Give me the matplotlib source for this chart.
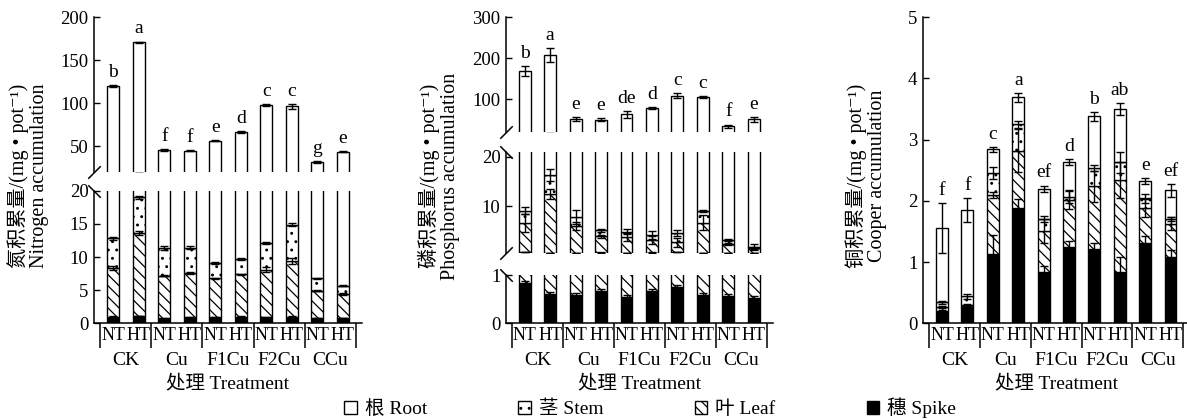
import numpy as np
import matplotlib
matplotlib.use('Agg')
import matplotlib.pyplot as plt
from matplotlib.patches import Patch

plt.rcParams['font.family'] = ['Liberation Serif', 'Noto Sans CJK SC', 'DejaVu Sans']
plt.rcParams['hatch.linewidth'] = 0.9

groups = ['CK', 'Cu', 'F1Cu', 'F2Cu', 'CCu']
temps = ['NT', 'HT']
parts = ['根 Root', '茎 Stem', '叶 Leaf', '穗 Spike']

# Nitrogen (mg/pot): component values, order NT,HT per group
n_spike = [1.0, 1.1, 0.75, 0.9, 0.9, 1.0, 0.9, 1.0, 0.8, 0.8]
n_leaf = [7.4, 12.5, 6.45, 6.7, 5.9, 6.4, 7.2, 8.4, 4.1, 3.6]
n_stem = [4.4, 5.4, 4.2, 3.8, 2.3, 2.3, 4.0, 5.5, 1.9, 1.3]
n_root = [107.2, 152.0, 34.1, 33.6, 47.4, 56.8, 85.4, 81.6, 24.7, 37.8]
n_spike_err = [0.05] * 10
n_leaf_err = [0.3, 0.3, 0.1, 0.1, 0.1, 0.1, 0.4, 0.5, 0.1, 0.1]
n_stem_err = [0.2, 0.2, 0.3, 0.2, 0.1, 0.1, 0.15, 0.2, 0.1, 0.1]
n_root_err = [1.0, 0.8, 0.8, 0.8, 0.8, 0.8, 1.2, 3.0, 0.8, 0.8]
n_letters = ['b', 'a', 'f', 'f', 'e', 'd', 'c', 'c', 'g', 'e']

# Phosphorus
p_spike = [0.83, 0.61, 0.58, 0.66, 0.54, 0.67, 0.75, 0.58, 0.57, 0.52]
p_leaf = [5.77, 11.89, 5.42, 3.34, 3.21, 2.53, 1.95, 6.12, 1.83, 0.98]
p_stem = [2.5, 3.8, 1.9, 1.2, 1.15, 1.0, 1.85, 2.4, 0.8, 0.3]
p_root = [158.9, 191.7, 43.1, 44.8, 58.1, 73.8, 104.45, 95.9, 30.8, 49.2]
p_spike_err = [0.04] * 10
p_leaf_err = [1.8, 1.0, 0.8, 0.3, 0.8, 0.8, 1.0, 1.5, 0.2, 0.2]
p_stem_err = [0.7, 1.3, 1.4, 0.3, 0.5, 0.8, 0.6, 0.2, 0.2, 0.6]
p_root_err = [12, 17, 5, 4, 8, 3, 6, 3, 4, 6]
p_letters = ['b', 'a', 'e', 'e', 'de', 'd', 'c', 'c', 'f', 'e']

# Copper
c_spike = [0.20, 0.27, 1.14, 1.88, 0.84, 1.25, 1.21, 0.84, 1.32, 1.09]
c_leaf = [0.07, 0.03, 0.95, 0.94, 0.67, 0.76, 1.03, 1.50, 0.56, 0.54]
c_stem = [0.07, 0.14, 0.36, 0.43, 0.19, 0.06, 0.30, 0.29, 0.16, 0.07]
c_root = [1.22, 1.41, 0.39, 0.44, 0.50, 0.57, 0.84, 0.87, 0.28, 0.47]
c_spike_err = [0.02, 0.02, 0.3, 0.15, 0.1, 0.1, 0.1, 0.25, 0.1, 0.1]
c_leaf_err = [0.02, 0.02, 0.05, 0.35, 0.2, 0.15, 0.25, 0.3, 0.15, 0.1]
c_stem_err = [0.03, 0.04, 0.1, 0.06, 0.05, 0.1, 0.05, 0.17, 0.07, 0.03]
c_root_err = [0.41, 0.19, 0.04, 0.07, 0.05, 0.05, 0.07, 0.1, 0.05, 0.1]
c_letters = ['f', 'f', 'c', 'a', 'ef', 'd', 'b', 'ab', 'e', 'ef']

W, H = 1187, 419
fig = plt.figure(figsize=(W / 100, H / 100), dpi=100)

def box(x0, x1, ytop, ybot):
    return [x0 / W, 1 - ybot / H, (x1 - x0) / W, (ybot - ytop) / H]

styles = [  # spike, leaf, stem, root
    dict(facecolor='black', hatch=None),
    dict(facecolor='white', hatch='\\\\\\'),
    dict(facecolor='white', hatch='..'),
    dict(facecolor='white', hatch=None),
]
BW = 0.47
FS = 14
TS = 13.5
XS = 13

def draw(ax, comps, errs):
    x = np.arange(10)
    bottom = np.zeros(10)
    tops = []
    for vals, st in zip(comps, styles):
        vals = np.asarray(vals, float)
        ax.bar(x, vals, BW, bottom=bottom, edgecolor='black', linewidth=1.0, **st)
        bottom = bottom + vals
        tops.append(bottom.copy())
    for t, e in zip(tops, errs):
        ax.errorbar(x, t, yerr=e, fmt='none', ecolor='black', elinewidth=1,
                    capsize=3, capthick=1, zorder=5)
    return tops[-1]

def style_ax(ax, xlim, ylim, yticks, bottom_axis):
    ax.set_xlim(*xlim)
    ax.set_ylim(*ylim)
    ax.set_yticks(yticks)
    for s in ['top', 'right']:
        ax.spines[s].set_visible(False)
    ax.spines['left'].set_linewidth(1.1)
    ax.tick_params(axis='y', direction='in', length=4, width=1, labelsize=TS, pad=4)
    if bottom_axis:
        ax.spines['bottom'].set_linewidth(1.1)
        ax.set_xticks(range(10))
        ax.set_xticklabels(temps * 5)
        ax.tick_params(axis='x', length=0, labelsize=XS, pad=3)
        h_px = ax.get_position().height * H
        ax.vlines(np.arange(-0.5, 10, 2), -25 / h_px, 0, colors='black', linewidth=1.1,
                  transform=ax.get_xaxis_transform(), clip_on=False)
        for k, g in enumerate(groups):
            ax.annotate(g, xy=(2 * k + 0.5, 0), xycoords=('data', 'axes fraction'),
                        xytext=(0, -37), textcoords='offset pixels',
                        ha='center', va='center', fontsize=FS)
        ax.annotate('处理 Treatment', xy=(4.5, 0), xycoords=('data', 'axes fraction'),
                    xytext=(0, -60), textcoords='offset pixels',
                    ha='center', va='center', fontsize=FS)
    else:
        ax.spines['bottom'].set_visible(False)
        ax.set_xticks([])

def brk(ax, where):
    y = 0 if where == 'bottom' else 1
    m = [(-1, -1), (1, 1)] if where == 'bottom' else [(-1, 1), (1, -1)]
    ax.plot([0], [y], transform=ax.transAxes, marker=m, markersize=9,
            linestyle='none', color='k', mec='k', mew=1.1, clip_on=False)

def letters(ax, total, err, labs):
    for i, (t, e, l) in enumerate(zip(total, err, labs)):
        ax.annotate(l, xy=(i, t + e), xytext=(0, 3), textcoords='offset points',
                    ha='center', va='bottom', fontsize=FS)

# ---- Panel 1: Nitrogen
xl1 = (-0.75, 9.75)
comps = [n_spike, n_leaf, n_stem, n_root]
errs = [n_spike_err, n_leaf_err, n_stem_err, n_root_err]
a1t = fig.add_axes(box(94, 362, 17.3, 172))
a1b = fig.add_axes(box(94, 362, 190.7, 323.3))
tot = draw(a1t, comps, errs)
draw(a1b, comps, errs)
style_ax(a1t, xl1, (20, 200), [50, 100, 150, 200], False)
style_ax(a1b, xl1, (0, 20), [0, 5, 10, 15, 20], True)
brk(a1t, 'bottom'); brk(a1b, 'top')
letters(a1t, tot, n_root_err, n_letters)

# ---- Panel 2: Phosphorus
xl2 = (-0.73, 9.75)
comps = [p_spike, p_leaf, p_stem, p_root]
errs = [p_spike_err, p_leaf_err, p_stem_err, p_root_err]
a2t = fig.add_axes(box(506, 773, 17.3, 132))
a2m = fig.add_axes(box(506, 773, 151.7, 253.4))
a2b = fig.add_axes(box(506, 773, 275, 323.3))
tot = draw(a2t, comps, errs)
draw(a2m, comps, errs)
draw(a2b, comps, errs)
style_ax(a2t, xl2, (20, 300), [100, 200, 300], False)
style_ax(a2m, xl2, (0.5, 21), [10, 20], False)
style_ax(a2b, xl2, (0, 1), [0, 1], True)
brk(a2t, 'bottom'); brk(a2m, 'top'); brk(a2m, 'bottom'); brk(a2b, 'top')
letters(a2t, tot, p_root_err, p_letters)

# ---- Panel 3: Copper
xl3 = (-0.75, 9.65)
comps = [c_spike, c_leaf, c_stem, c_root]
errs = [c_spike_err, c_leaf_err, c_stem_err, c_root_err]
a3 = fig.add_axes(box(923, 1187, 17.3, 323.3))
tot = draw(a3, comps, errs)
style_ax(a3, xl3, (0, 5), [0, 1, 2, 3, 4, 5], True)
letters(a3, tot, c_root_err, c_letters)

# ---- y labels
ylabs = [('氮积累量/(mg • pot⁻¹)\nNitrogen accumulation', 28),
         ('磷积累量/(mg • pot⁻¹)\nPhosphorus accumulation', 439),
         ('铜积累量/(mg • pot⁻¹)\nCooper accumulation', 866)]
for txt, xc in ylabs:
    fig.text(xc / W, 1 - 176 / H, txt, rotation=90, ha='center', va='center',
             multialignment='center', fontsize=14.5, linespacing=1.05)

# ---- legend
handles = [Patch(facecolor='white', edgecolor='black', label=parts[0]),
           Patch(facecolor='white', edgecolor='black', hatch='..', label=parts[1]),
           Patch(facecolor='white', edgecolor='black', hatch='\\\\\\', label=parts[2]),
           Patch(facecolor='black', edgecolor='black', label=parts[3])]
fig.legend(handles=handles, ncol=4, loc='center', bbox_to_anchor=(650 / W, 1 - 408 / H),
           frameon=False, fontsize=FS, handlelength=0.65, handleheight=0.65,
           handletextpad=0.4, columnspacing=4.7, borderpad=0)

fig.savefig('out.png', dpi=100)
